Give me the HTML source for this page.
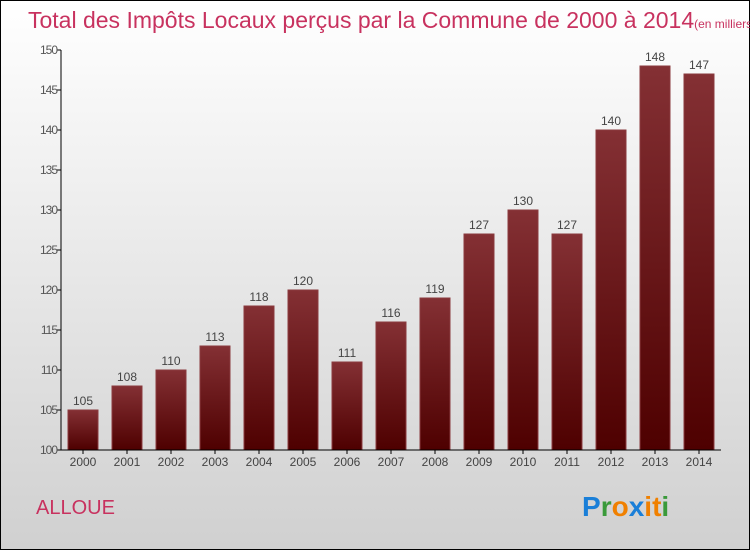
<!DOCTYPE html>
<html><head><meta charset="utf-8"><style>
body{margin:0;width:750px;height:550px;overflow:hidden}
svg text{font-family:"Liberation Sans",sans-serif}
</style></head><body>
<svg width="750" height="550">
<defs>
<linearGradient id="bg" x1="0" y1="0" x2="0" y2="1"><stop offset="0" stop-color="#ffffff"/><stop offset="1" stop-color="#d0d0d0"/></linearGradient>
<linearGradient id="bar" x1="0" y1="0" x2="0" y2="1"><stop offset="0" stop-color="#843034"/><stop offset="1" stop-color="#4e0000"/></linearGradient>
</defs>
<rect x="0.5" y="0.5" width="749" height="549" fill="url(#bg)" stroke="#000"/>
<text x="28" y="28" font-size="23" fill="#c8325f">Total des Impôts Locaux perçus par la Commune de 2000 à 2014<tspan font-size="12">(en milliers d'€)</tspan></text>
<g id="bars"></g>
<g id="axes"></g>
<text x="36" y="514" font-size="20" fill="#c8325f">ALLOUE</text>
<g font-size="28" font-weight="bold">
<text x="582" y="516"><tspan fill="#1a7fd8">P</tspan><tspan fill="#3a9a3a">r</tspan><tspan fill="#f08000">o</tspan><tspan fill="#1a7fd8">x</tspan><tspan fill="#f08000">i</tspan><tspan fill="#f08000">t</tspan><tspan fill="#3a9a3a">i</tspan></text>
</g>
</svg>
<script>
const categories=["2000","2001","2002","2003","2004","2005","2006","2007","2008","2009","2010","2011","2012","2013","2014"];
const values=[105,108,110,113,118,120,111,116,119,127,130,127,140,148,147];
const yTicks=[100,105,110,115,120,125,130,135,140,145,150];
const ns="http://www.w3.org/2000/svg";
const x0=61,x1=721,yb=450,yMin=100,yMax=150,yTop=50;
const band=(x1-x0)/categories.length;
const y=v=>yb-(v-yMin)/(yMax-yMin)*(yb-yTop);
const bx=i=>x0+band*i+band/2;
function mk(t,a,p){const e=document.createElementNS(ns,t);for(const k in a)e.setAttribute(k,a[k]);p.appendChild(e);return e;}
const gb=document.getElementById('bars'),ga=document.getElementById('axes');
values.forEach((v,i)=>{
const r=mk('rect',{x:bx(i)-15,y:y(v),width:30,height:yb-y(v),fill:'url(#bar)',stroke:'#8a3a3e','stroke-width':1},gb);


const t=mk('text',{x:bx(i),y:y(v)-5,'text-anchor':'middle','font-size':12,fill:'#444'},gb);
t.textContent=v;


const xt=mk('text',{x:bx(i),y:466,'text-anchor':'middle','font-size':12,fill:'#444'},ga);
xt.textContent=categories[i];


mk('line',{x1:bx(i),x2:bx(i),y1:yb,y2:yb+4,stroke:'#000'},ga);
});
yTicks.forEach(v=>{
mk('line',{x1:x0-4,x2:x0,y1:y(v),y2:y(v),stroke:'#000'},ga);
const t=mk('text',{x:x0-4,y:y(v)+4,'text-anchor':'end','font-size':12,fill:'#555','letter-spacing':'-1'},ga);
t.textContent=v;


});
const ya=mk('line',{x1:x0,x2:x0,y1:yTop,y2:yb,stroke:'#000'},ga);


const xa=mk('line',{x1:x0,x2:x1,y1:yb,y2:yb,stroke:'#000'},ga);


</script>
</body></html>
